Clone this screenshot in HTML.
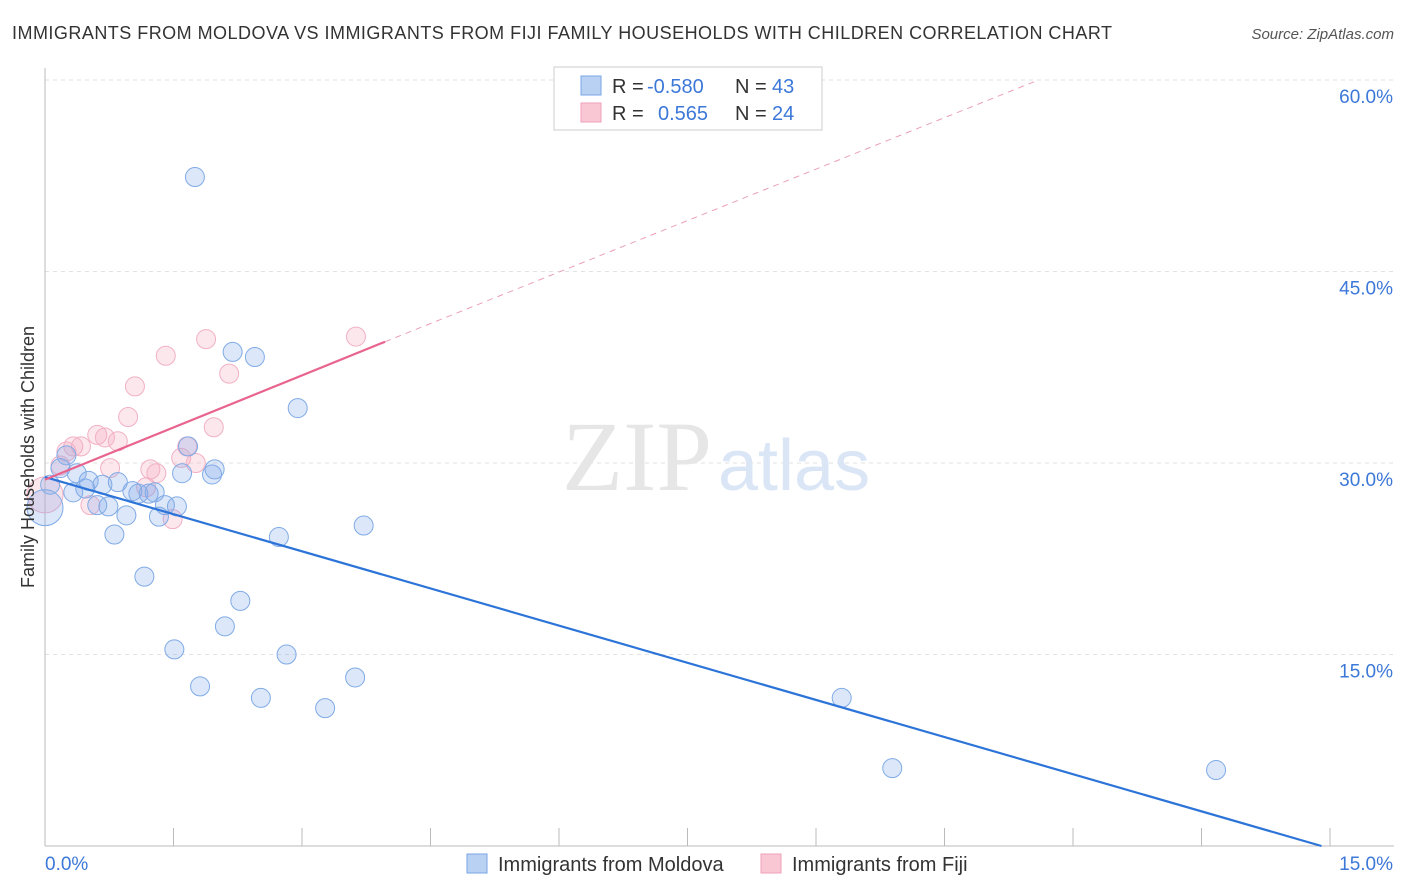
<!DOCTYPE html>
<html><head><meta charset="utf-8"><style>
body{margin:0;background:#fff;font-family:"Liberation Sans",sans-serif;}
svg{display:block}
</style></head><body>
<svg id="chart" width="1406" height="892">
<text x="12" y="39" font-size="18" textLength="1100" fill="#333">IMMIGRANTS FROM MOLDOVA VS IMMIGRANTS FROM FIJI FAMILY HOUSEHOLDS WITH CHILDREN CORRELATION CHART</text>
<text x="1394" y="39" font-size="15" fill="#555" font-style="italic" text-anchor="end">Source: ZipAtlas.com</text>
<g id="grid"></g>
<text x="712" y="490" font-size="100" fill="#e6e6e6" font-family="Liberation Serif,serif" text-anchor="end">ZIP</text>
<text x="718" y="490" font-size="72" fill="#dae6f6">atlas</text>
<g id="marks"></g>
<text transform="translate(34,457) rotate(-90)" font-size="18" fill="#333" text-anchor="middle">Family Households with Children</text>
<g>
<rect x="554" y="67" width="268" height="63" fill="#fff" stroke="#ccc"/>
<rect x="581" y="76" width="20" height="19" fill="#b9d2f4" stroke="#7aa6e6"/>
<rect x="581" y="103" width="20" height="19" fill="#f9c6d4" stroke="#f0a0b8"/>
<text y="93" font-size="20" fill="#333"><tspan x="612">R =</tspan><tspan x="647" fill="#3c78d8">-0.580</tspan><tspan x="735">N =</tspan><tspan x="772" fill="#3c78d8">43</tspan></text>
<text y="120" font-size="20" fill="#333"><tspan x="612">R =</tspan><tspan x="658" fill="#3c78d8">0.565</tspan><tspan x="735">N =</tspan><tspan x="772" fill="#3c78d8">24</tspan></text>
</g>
<g>
<rect x="467" y="854" width="20" height="19" fill="#b9d2f4" stroke="#7aa6e6"/>
<text x="498" y="871" font-size="20" fill="#333">Immigrants from Moldova</text>
<rect x="761" y="854" width="20" height="19" fill="#f9c6d4" stroke="#f0a0b8"/>
<text x="792" y="871" font-size="20" fill="#333">Immigrants from Fiji</text>
</g>
</svg>
<script>
const yTicks=[15,30,45,60];
const yTickLabels=["15.0%","30.0%","45.0%","60.0%"];
const xTickCount=10;
const xLabels=["0.0%","15.0%"];
const moldovaX=[1.75,2.19,2.45,2.95,1.67,1.98,1.95,1.60,0.25,0.37,0.51,0.67,0.85,1.02,1.09,1.28,1.21,0.33,0.47,0.61,0.74,0.95,1.40,1.54,1.33,0.81,2.73,3.72,1.16,2.28,2.10,1.51,2.82,1.81,2.52,3.62,3.27,9.30,9.89,13.67,0,0.06,0.18];
const moldovaY=[52.4,38.7,38.3,34.3,31.3,29.5,29.1,29.2,30.6,29.2,28.6,28.3,28.5,27.8,27.6,27.7,27.6,27.7,28.0,26.7,26.6,25.9,26.7,26.6,25.8,24.4,24.2,25.1,21.1,19.2,17.2,15.4,15.0,12.5,11.6,13.2,10.8,11.6,6.1,5.95,26.5,28.3,29.6];
const moldovaBig=[40];
const fijiX=[3.63,1.88,1.41,2.15,1.05,0.97,1.97,0.61,0.85,0.70,0.33,0.42,1.66,0.25,0.18,0.76,1.23,1.30,1.59,1.76,1.18,1.49,0.53,0];
const fijiY=[39.9,39.7,38.4,37.0,36.0,33.6,32.8,32.2,31.7,32.0,31.3,31.3,31.3,30.9,29.8,29.6,29.5,29.2,30.4,30.0,28.1,25.6,26.7,27.5];
const fijiBig=[23];
const moldovaLine=[[0,28.9],[14.9,0]];
const fijiLineSolid=[[0,28.7],[3.97,39.5]];
const fijiLineDash=[[3.97,39.5],[11.56,59.9]];
const NS="http://www.w3.org/2000/svg";
const X0=45,X1=1330,Y0=846,YPX=191.5/15;
function sx(v){return X0+(X1-X0)*v/15;}
function sy(v){return Y0-v*YPX;}
function mk(t,a,p){const e=document.createElementNS(NS,t);for(const k in a)e.setAttribute(k,a[k]);p.appendChild(e);return e;}
const grid=document.getElementById('grid'),marks=document.getElementById('marks');
yTicks.forEach((t,i)=>{
 const l=mk('line',{x1:45,x2:1394,y1:sy(t),y2:sy(t),stroke:'#e2e2e2','stroke-dasharray':'4,4'},grid);
 
 
 const tx=mk('text',{x:1393,y:sy(t)+23,'font-size':19,fill:'#3c78d8','text-anchor':'end'},grid);
 tx.textContent=yTickLabels[i];
 
 
});
const ax=mk('line',{x1:45,x2:45,y1:68,y2:846,stroke:'#bbb'},grid);


const bx=mk('line',{x1:45,x2:1394,y1:846,y2:846,stroke:'#bbb'},grid);


for(let i=1;i<=xTickCount;i++){const v=15*i/xTickCount;
 const t=mk('line',{x1:sx(v),x2:sx(v),y1:828,y2:846,stroke:'#bbb'},grid);
 
 }
const xl0=mk('text',{x:45,y:870,'font-size':19,fill:'#3c78d8'},grid);xl0.textContent=xLabels[0];


const xl1=mk('text',{x:1393,y:870,'font-size':19,fill:'#3c78d8','text-anchor':'end'},grid);xl1.textContent=xLabels[1];


function pts(xs,ys,big,fill,stroke,name){xs.forEach((v,i)=>{
 const c=mk('circle',{cx:sx(v),cy:sy(ys[i]),r:big.includes(i)?18:9.5,fill:fill,stroke:stroke,'stroke-width':1},marks);
 
 });}
pts(fijiX,fijiY,fijiBig,'rgba(246,170,192,0.28)','#f2b0c4','fiji-point');
pts(moldovaX,moldovaY,moldovaBig,'rgba(130,170,232,0.28)','#80abe6','moldova-point');
function ln(p,st,w,dash,name){const l=mk('line',{x1:sx(p[0][0]),y1:sy(p[0][1]),x2:sx(p[1][0]),y2:sy(p[1][1]),stroke:st,'stroke-width':w},marks);
 if(dash)l.setAttribute('stroke-dasharray',dash);
 
 }
ln(moldovaLine,'#2d74d8',2.2,null,'moldova-trend-line');
ln(fijiLineSolid,'#e8648e',2.2,null,'fiji-trend-line');
ln(fijiLineDash,'#eaa0b6',1,'6,5','fiji-trend-extension');
</script>
</body></html>
